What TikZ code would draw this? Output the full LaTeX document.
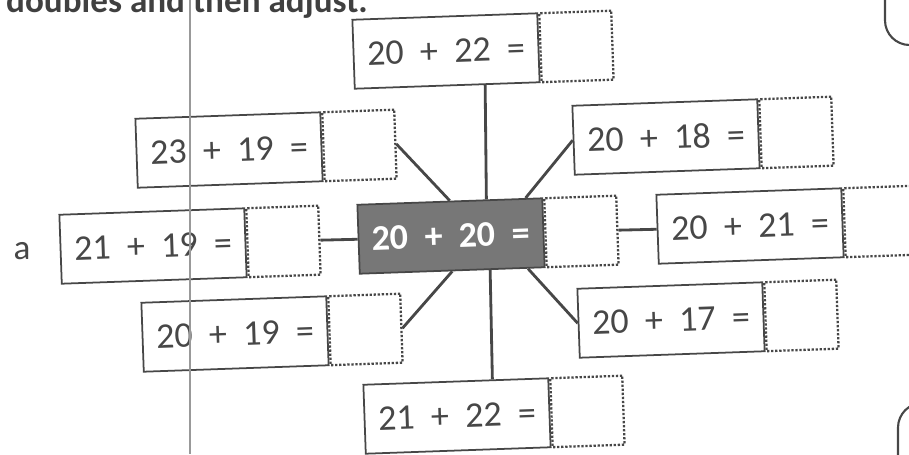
\documentclass[tikz,border=0pt]{standalone}
\usepackage{fontspec}
\setmainfont{Carlito}
\usetikzlibrary{positioning}
\definecolor{Ink}{HTML}{474747}
\definecolor{Shade}{HTML}{777777}

\begin{document}
\begin{tikzpicture}[x=0.02cm,y=-0.02cm,
    sum/.style={draw=Ink,line width=1pt,minimum width=3.7cm,minimum height=1.38cm,inner sep=0pt,
      rotate=2,text=Ink,font=\fontsize{20.5}{20}\selectfont},
    ans/.style={draw=Ink,densely dotted,line width=1.3pt,minimum width=1.44cm,minimum height=1.38cm,
      inner sep=0pt,rotate=2,right=0pt of #1},
    link/.style={draw=Ink,line width=1.6pt}]
    \useasboundingbox (0,0) rectangle (909,454);
    \clip (0,0) rectangle (909,454);
    \node[anchor=base west,text=Ink!90!black,font=\bfseries\fontsize{20}{20}\selectfont] (head) at (0,12) {doubles and then adjust.};
    \node[text=Ink,font=\fontsize{20}{20}\selectfont] (lab) at (22,251) {a};
    % spider of sums round the double
    \node[sum,fill=Shade,text=white,font=\bfseries\fontsize{20.5}{20}\selectfont] (mid) at (451,236) {20~~+~~20~~=};
    \node[ans=mid] (mida) {};
    \node[sum] (up) at (446,51) {20~~+~~22~~=};
    \node[ans=up] (upa) {};
    \node[sum] (upl) at (229,150) {23~~+~~19~~=};
    \node[ans=upl] (upla) {};
    \node[sum] (upr) at (666,137) {20~~+~~18~~=};
    \node[ans=upr] (upra) {};
    \node[sum] (lft) at (153,246) {21~~+~~19~~=};
    \node[ans=lft] (lfta) {};
    \node[sum] (rgt) at (750,226) {20~~+~~21~~=};
    \node[ans=rgt] (rgta) {};
    \node[sum] (dnl) at (235,334) {20~~+~~19~~=};
    \node[ans=dnl] (dnla) {};
    \node[sum] (dnr) at (671,320) {20~~+~~17~~=};
    \node[ans=dnr] (dnra) {};
    \node[sum] (dn) at (457,416) {21~~+~~22~~=};
    \node[ans=dn] (dna) {};
    \foreach \u/\v in {up.-43/mid.44,upla.east/mid.north,upr.west/mid.25,lfta.east/mid.west,
      mida.east/rgt.west,dnla.east/mid.south,dnr.west/mid.-25,dn.44/mid.-43}
      \draw[link] (\u)--(\v);
    % page edges of the scan
    \draw[Ink,line width=1.2pt,rounded corners=14pt] (885,-30) rectangle (960,45);
    \draw[Ink,line width=1.2pt,rounded corners=14pt] (898,403) rectangle (980,500);
    \draw[gray!80,line width=0.6pt] (190,0) -- (190,454);
  \end{tikzpicture}
\end{document}
